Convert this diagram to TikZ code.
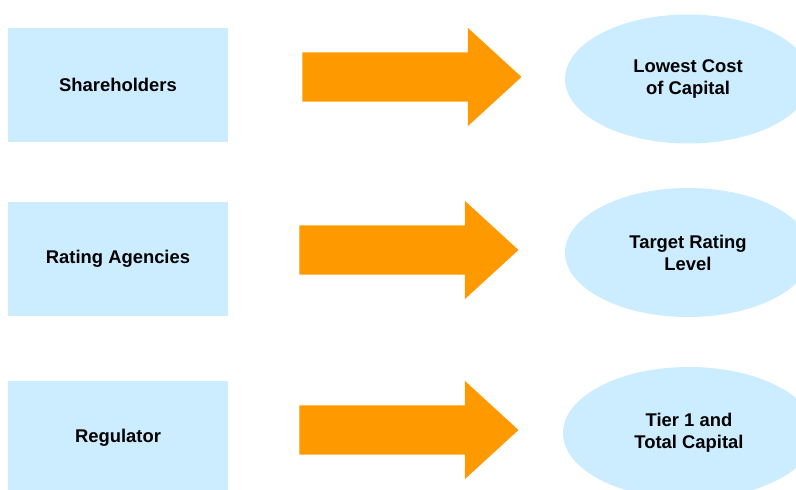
\documentclass[tikz,border=0pt]{standalone}
\usepackage{fontspec}
\setmainfont{Liberation Sans}
\usetikzlibrary{shapes.geometric,shapes.arrows}
\definecolor{paleblue}{HTML}{CCECFF}
\definecolor{orange}{HTML}{FF9900}

\begin{document}
\begin{tikzpicture}[
  x=1pt, y=-1pt,
  font=\bfseries\fontsize{18.4}{22}\selectfont,
  party/.style={
    rectangle,
    fill=paleblue,
    minimum width=220pt,
    minimum height=114pt,
    inner sep=0pt
  },
  goal/.style={
    ellipse,
    fill=paleblue,
    minimum width=246pt,
    minimum height=129pt,
    inner sep=0pt,
    align=center
  },
  push/.style={
    single arrow,
    fill=orange,
    minimum height=219pt,
    inner xsep=0pt,
    inner ysep=24.5pt,
    single arrow head extend=24.5pt,
    single arrow tip angle=85
  }
]

\path[use as bounding box] (0,0) rectangle (796,490);

% who sets the requirement
\node[party] (holders)  at (118,85)  {Shareholders};
\node[party] (agencies) at (118,259) {Rating Agencies};
\node[party] (regul)    at (118,438) {Regulator};

% what each of them asks for
\node[push] (arrowA) at (398.5,77) {};
\node[push] (arrowB) at (395.5,250) {};
\node[push] (arrowC) at (395.5,430) {};

\node[goal] (cost)   at (688,79) {Lowest Cost\\of Capital};
\node[goal] (rating) at (688,252.5)  {Target Rating\\Level};
\node[goal, minimum width=252pt, minimum height=132pt] (tier)
  at (689,433) {Tier 1 and\\Total Capital};

\end{tikzpicture}
\end{document}
